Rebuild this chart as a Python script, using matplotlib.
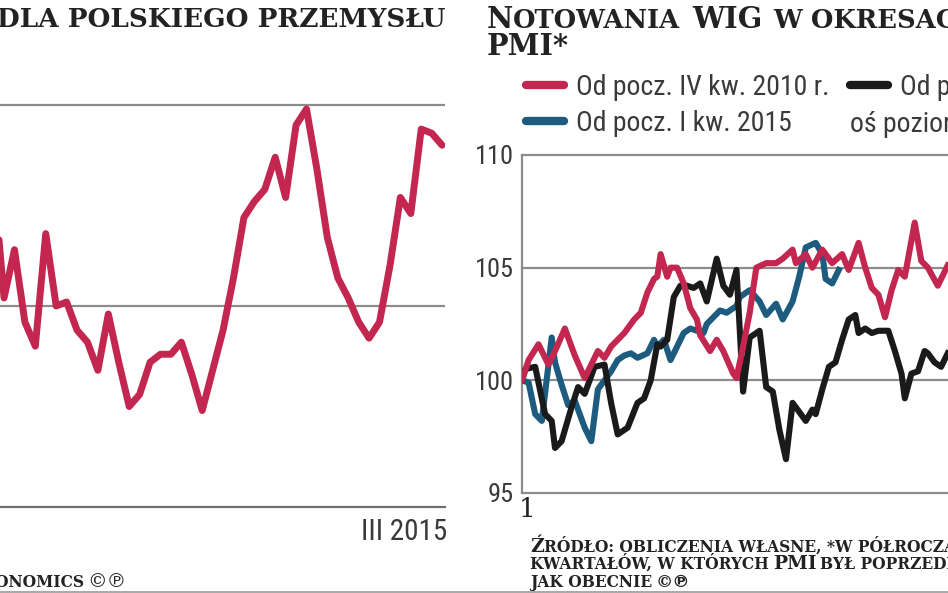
import numpy as np
import matplotlib.pyplot as plt
from matplotlib import font_manager
from matplotlib.lines import Line2D
from matplotlib.transforms import ScaledTranslation

# left panel: PMI for Polish industry, monthly, last point = III 2015
pmi = [53.2, 50.2, 51.4, 49.6, 49.0, 51.8, 50.0, 50.1, 49.4, 49.1, 48.4,
       49.8, 48.6, 47.5, 47.8, 48.6, 48.8, 48.8, 49.1, 48.3, 47.4, 48.4,
       49.4, 50.7, 52.2, 52.6, 52.9, 53.7, 52.7, 54.5, 54.9, 53.4, 51.7,
       50.7, 50.2, 49.6, 49.2, 49.6, 51.0, 52.7, 52.3, 54.4, 54.3, 54.0]
pmi_label = "III 2015"

# right panel: WIG (start = 100) by trading day
red_day = [1, 3, 6, 9, 11, 14, 17, 20, 22, 24, 26, 28, 30, 32, 35, 37, 39, 41,
           42, 43, 45, 46, 48, 50, 52, 54, 55, 58, 60, 62, 65, 66, 68, 70, 72,
           75, 78, 80, 83, 84, 87, 89, 92, 95, 98, 100, 103, 105, 107, 109,
           111, 113, 115, 117, 120, 122, 124, 127, 130]
red_val = [100.0, 100.9, 101.6, 100.7, 101.3, 102.3, 101.1, 100.1, 100.7,
           101.3, 101.0, 101.5, 101.8, 102.1, 102.7, 103.0, 103.9, 104.5,
           104.6, 105.6, 104.6, 105.0, 105.0, 104.3, 103.2, 102.7, 102.0,
           101.3, 101.8, 101.3, 100.3, 100.1, 101.5, 103.0, 105.0, 105.2,
           105.2, 105.4, 105.8, 105.2, 105.6, 105.0, 105.8, 105.2, 105.6,
           104.9, 106.1, 105.0, 104.1, 103.8, 102.8, 104.0, 104.9, 104.6,
           107.0, 105.3, 105.0, 104.2, 105.1]

blue_day = [1, 3, 5, 7, 10, 11, 13, 15, 17, 20, 22, 24, 26, 28, 30, 32, 34,
            36, 39, 41, 42, 44, 46, 48, 50, 52, 54, 56, 57, 59, 61, 63, 66,
            67, 70, 73, 75, 78, 80, 83, 85, 87, 90, 92, 93, 95, 97]
blue_val = [100.0, 99.9, 98.5, 98.2, 101.9, 100.8, 99.8, 98.9, 99.1, 97.9,
            97.3, 99.6, 100.0, 100.4, 100.9, 101.1, 101.2, 101.0, 101.2,
            101.8, 101.5, 101.8, 100.9, 101.5, 102.1, 102.3, 102.2, 102.1,
            102.5, 102.8, 103.1, 103.0, 103.3, 103.7, 104.0, 103.5, 102.9,
            103.4, 102.7, 103.5, 104.6, 105.9, 106.1, 105.6, 104.5, 104.3,
            104.9]

black_day = [1, 2, 5, 8, 10, 11, 13, 16, 18, 20, 23, 26, 28, 30, 33, 36, 38,
             40, 42, 43, 45, 47, 49, 51, 53, 55, 57, 60, 62, 64, 66, 68, 70,
             73, 75, 77, 79, 81, 83, 85, 87, 89, 90, 92, 94, 96, 98, 100, 102,
             103, 105, 107, 109, 112, 114, 116, 117, 119, 121, 123, 124, 126,
             128, 130]
black_val = [100.0, 100.5, 100.6, 98.5, 98.2, 97.0, 97.3, 98.8, 99.7, 99.4,
             100.6, 100.7, 99.0, 97.6, 97.9, 99.0, 99.2, 100.0, 101.6, 101.5,
             101.8, 103.7, 104.2, 104.2, 104.1, 104.3, 103.5, 105.4, 104.2,
             103.8, 104.9, 99.5, 101.9, 102.2, 99.7, 99.5, 97.8, 96.5, 99.0,
             98.6, 98.2, 98.7, 98.5, 99.6, 100.6, 100.8, 101.8, 102.7, 102.9,
             102.1, 102.3, 102.1, 102.2, 102.2, 101.3, 100.3, 99.2, 100.3,
             100.4, 101.3, 101.2, 100.8, 100.6, 101.2]

series_labels = ["Od pocz. IV kw. 2010 r.", "Od pocz. I kw. 2015", "Od pocz."]
wig_ticks = [95, 100, 105, 110]

RED = "#c3264f"
BLUE = "#1d5c7e"
BLACK = "#1a1a1a"
GRID = "#8c8c8c"
TXT = "#3a3a3a"
TITLE = "#222222"


def pick_font(names, default="DejaVu Sans"):
    for name in names:
        try:
            font_manager.findfont(name, fallback_to_default=False)
            return name
        except ValueError:
            pass
    return default


NARROW = pick_font(["Liberation Sans Narrow", "Roboto Condensed", "Open Sans Condensed"])
SERIF = ["DejaVu Serif", "DejaVu Sans"]

W, H = 948, 593
fig = plt.figure(figsize=(W / 100, H / 100), dpi=100)
renderer = fig.canvas.get_renderer()


def fx(px):
    return px / W


def fy(py):
    return 1 - py / H


def caps_line(x, y, parts, color=TITLE, weight="bold"):
    """Draw small-caps-like text: pieces of different size on one baseline."""
    for text, size in parts:
        if text is None:
            x += size
            continue
        t = fig.text(fx(x), fy(y), text, fontsize=size, family=SERIF,
                     weight=weight, color=color, va="baseline", ha="left")
        x = t.get_window_extent(renderer).x1
    return x


# ---- left panel ----
ax1 = fig.add_axes([0, fy(507), fx(445), (507 - 93) / H])
x1 = np.arange(len(pmi))
ax1.plot(x1, pmi, color=RED, lw=5, solid_joinstyle="round",
         solid_capstyle="round", zorder=3)
x0 = 6.4 / 10.43
ax1.set_xlim(x0, x0 + 445 / 10.43)
ax1.set_ylim(45, 55 + 12 / 40.2)
for v in (50, 55):
    ax1.axhline(v, color=GRID, lw=1.6, zorder=1)
for s in ("top", "right", "left"):
    ax1.spines[s].set_visible(False)
ax1.spines["bottom"].set_color("#6e6e6e")
ax1.spines["bottom"].set_linewidth(1.6)
ax1.set_yticks([])
ax1.set_xticks([x1[-1]], [pmi_label])
ax1.tick_params(axis="x", length=0, pad=8, labelsize=21, labelcolor=TXT)
for lab in ax1.get_xticklabels():
    lab.set_ha("right")
    lab.set_family(NARROW)
    lab.set_transform(lab.get_transform()
                      + ScaledTranslation(5 / 100, 0, fig.dpi_scale_trans))

caps_line(-3, 27, [("DLA POLSKIEGO PRZEMYSŁU", 18.9)])
t = fig.text(fx(126), fy(587), "©℗", fontsize=14, family=SERIF,
             color=TITLE, ha="right", va="baseline")
x_end = t.get_window_extent(renderer).x0
fig.text(fx(x_end - 3), fy(587), "ECONOMICS", fontsize=11.2, family=SERIF,
         weight="bold", color=TITLE, ha="right", va="baseline")

# ---- right panel ----
ax2 = fig.add_axes([fx(522), fy(493), fx(1000 - 522), (493 - 155) / H])
ax2.plot(blue_day, blue_val, color=BLUE, lw=4.4, solid_joinstyle="round", zorder=3)
ax2.plot(black_day, black_val, color=BLACK, lw=4.4, solid_joinstyle="round", zorder=4)
ax2.plot(red_day, red_val, color=RED, lw=4.4, solid_joinstyle="round", zorder=5)
ax2.set_xlim(1, 1 + 478 / 3.3)
ax2.set_ylim(95, 110)
for v in (100, 105, 110):
    ax2.axhline(v, color=GRID, lw=1.6, zorder=1, clip_on=False)
for s in ("top", "right"):
    ax2.spines[s].set_visible(False)
for s in ("left", "bottom"):
    ax2.spines[s].set_color(GRID)
    ax2.spines[s].set_linewidth(1.6)
ax2.set_yticks(wig_ticks, [str(v) for v in wig_ticks])
ax2.tick_params(axis="y", length=0, pad=6, labelsize=19, labelcolor=TXT)
for lab in ax2.get_yticklabels():
    lab.set_family(NARROW)
ax2.set_xticks([1], ["1"])
ax2.tick_params(axis="x", length=0, pad=3, labelsize=19, labelcolor=TITLE)
for lab in ax2.get_xticklabels():
    lab.set_family(SERIF)
    lab.set_ha("left")
    lab.set_transform(lab.get_transform()
                      + ScaledTranslation(-3 / 100, 0, fig.dpi_scale_trans))

handles = [Line2D([], [], color=c, lw=6, solid_capstyle="round")
           for c in (RED, BLUE, BLACK)]
leg = ax2.legend(handles, series_labels, ncol=2, loc="upper left",
                 bbox_to_anchor=(fx(526), fy(74)), bbox_transform=fig.transFigure,
                 frameon=False, borderpad=0, borderaxespad=0, handlelength=1.35,
                 handletextpad=0.45, columnspacing=0.75, labelspacing=0.33,
                 prop={"family": NARROW, "size": 20})
for txt in leg.get_texts():
    txt.set_color(TXT)
fig.text(fx(850), fy(132), "oś pozioma", fontsize=20, family=NARROW,
         color=TXT, ha="left", va="baseline")

big, small = 20.7, 18.5
caps_line(487, 28, [("N", big), ("OTOWANIA", small), (None, 12), ("WIG", big),
                    (None, 11), ("W OKRESACH", small)])
caps_line(487, 55, [("PMI*", big)])

fbig, fsmall = 13.5, 11.2
caps_line(530, 552, [("Ź", fbig), ("RÓDŁO: OBLICZENIA WŁASNE, *W PÓŁROCZACH", fsmall)])
caps_line(530, 569, [("KWARTAŁÓW, W KTÓRYCH", fsmall), (None, 4), ("PMI", fbig),
                     (None, 4), ("BYŁ POPRZEDNIO", fsmall)])
caps_line(530, 587, [("JAK OBECNIE", fsmall), (None, 4), ("©℗", 12.5)])

fig.add_artist(Line2D([0, 1], [fy(591.5)] * 2, color="#9a9a9a", lw=1.2))

fig.savefig("out.png", dpi=100)
